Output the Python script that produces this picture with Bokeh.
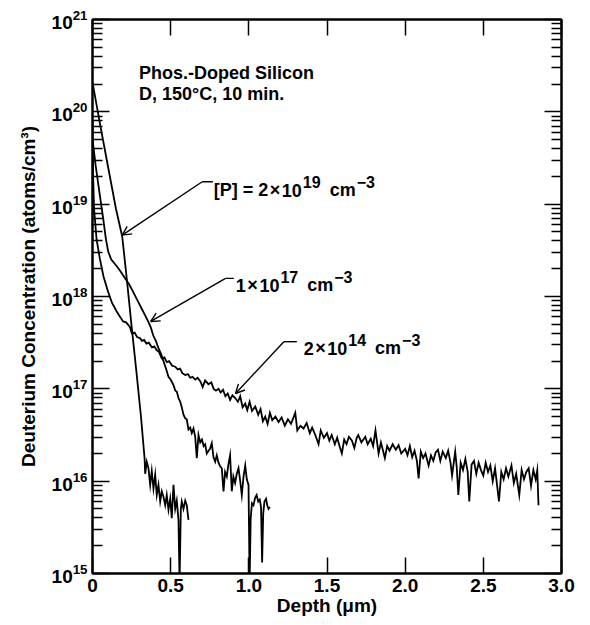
import numpy as np
from bokeh.plotting import figure
from bokeh.models import (FixedTicker, LogAxis, LinearAxis, Label, Arrow, OpenHead,
                          CustomJSTickFormatter, LogTickFormatter, Range1d)
from bokeh.embed import file_html
from bokeh.resources import INLINE

# ---------------- data (depth in micrometres, log10 of concentration in atoms/cm^3) -------------
# [P] = 2x10^19 cm^-3
p19_depth = [0.0, 0.05, 0.10, 0.15, 0.19, 0.22, 0.25, 0.28, 0.31, 0.333,
             0.337, 0.347, 0.358, 0.369, 0.379, 0.390, 0.401, 0.411, 0.422, 0.433,
             0.443, 0.454, 0.465, 0.475, 0.486, 0.497, 0.507, 0.518, 0.529, 0.539,
             0.550, 0.557, 0.565, 0.571, 0.582, 0.593, 0.603, 0.614]
p19_log10c = [20.32, 19.85, 19.40, 18.95, 18.65, 18.18, 17.68, 17.20, 16.70, 16.25,
              16.08, 16.21, 16.14, 15.96, 16.11, 15.92, 16.07, 15.85, 15.96, 15.78,
              15.89, 15.83, 15.74, 15.85, 15.69, 15.81, 15.60, 15.96, 15.70, 15.79,
              15.58, 14.90, 15.70, 15.78, 15.70, 15.79, 15.74, 15.58]

# 1x10^17 cm^-3
p17_depth = [0.0, 0.02, 0.045, 0.068, 0.085, 0.10, 0.12, 0.154, 0.18, 0.207,
             0.235, 0.26, 0.29, 0.314, 0.335, 0.356, 0.374, 0.388, 0.405, 0.422,
             0.44, 0.454, 0.47, 0.486, 0.50, 0.518, 0.53, 0.539, 0.55, 0.561,
             0.571, 0.582, 0.593, 0.603, 0.614, 0.625, 0.635, 0.646, 0.657, 0.667,
             0.678, 0.689, 0.70, 0.711, 0.721, 0.731, 0.742, 0.752, 0.763, 0.774,
             0.785, 0.795, 0.806, 0.817, 0.827, 0.838, 0.848, 0.859, 0.869, 0.88,
             0.891, 0.901, 0.912, 0.923, 0.934, 0.945, 0.955, 0.966, 0.977, 0.987,
             0.998, 1.005, 1.012, 1.02, 1.03, 1.04, 1.05, 1.06, 1.07, 1.078,
             1.085, 1.092, 1.10, 1.11, 1.118, 1.126, 1.135]
p17_log10c = [19.71, 19.42, 19.12, 18.85, 18.63, 18.49, 18.40, 18.33, 18.27, 18.20,
              18.13, 18.05, 17.95, 17.87, 17.80, 17.73, 17.66, 17.58, 17.52, 17.44,
              17.37, 17.30, 17.22, 17.13, 17.10, 17.04, 16.98, 16.97, 16.90, 16.86,
              16.80, 16.72, 16.68, 16.67, 16.56, 16.58, 16.52, 16.57, 16.48, 16.25,
              16.50, 16.42, 16.45, 16.38, 16.40, 16.30, 16.33, 16.35, 16.41, 16.26,
              16.21, 16.28, 16.20, 16.16, 16.14, 15.89, 16.10, 16.05, 16.18, 16.28,
              15.89, 16.05, 15.98, 16.08, 16.14, 16.00, 15.85, 16.05, 16.17, 16.02,
              15.96, 14.90, 15.60, 15.76, 15.74, 15.82, 15.85, 15.78, 15.80, 15.72,
              15.12, 15.65, 15.78, 15.81, 15.74, 15.70, 15.72]

# 2x10^14 cm^-3
p14_depth = [0.0, 0.004, 0.010, 0.026, 0.047, 0.070, 0.100, 0.125, 0.154, 0.180,
             0.196, 0.215, 0.239, 0.252, 0.270, 0.285, 0.303, 0.316, 0.330, 0.345,
             0.360, 0.380, 0.395, 0.410, 0.425, 0.443, 0.460, 0.475, 0.490, 0.510,
             0.529, 0.545, 0.560, 0.575, 0.593, 0.610, 0.625, 0.640, 0.657, 0.672,
             0.690, 0.705, 0.720, 0.742, 0.760, 0.775, 0.790, 0.806, 0.820, 0.835,
             0.850, 0.865, 0.880, 0.895, 0.913, 0.930, 0.945, 0.960, 0.977, 0.990,
             1.005, 1.020, 1.041, 1.060, 1.075, 1.090, 1.105, 1.120, 1.135, 1.150,
             1.170, 1.190, 1.210, 1.230, 1.250, 1.270, 1.297, 1.310, 1.330, 1.350,
             1.370, 1.390, 1.405, 1.425, 1.446, 1.460, 1.480, 1.500, 1.515, 1.530,
             1.550, 1.565, 1.580, 1.595, 1.610, 1.625, 1.640, 1.659, 1.675, 1.690,
             1.700, 1.720, 1.745, 1.760, 1.780, 1.795, 1.810, 1.830, 1.845, 1.870,
             1.885, 1.900, 1.920, 1.940, 1.958, 1.975, 2.000, 2.015, 2.030, 2.045,
             2.060, 2.075, 2.086, 2.100, 2.115, 2.130, 2.150, 2.165, 2.180, 2.195,
             2.210, 2.225, 2.240, 2.260, 2.275, 2.290, 2.300, 2.320, 2.330, 2.340,
             2.355, 2.370, 2.385, 2.400, 2.410, 2.425, 2.440, 2.455, 2.470, 2.485,
             2.500, 2.515, 2.530, 2.545, 2.560, 2.575, 2.600, 2.615, 2.630, 2.645,
             2.660, 2.680, 2.695, 2.710, 2.730, 2.745, 2.760, 2.775, 2.790, 2.805,
             2.820, 2.835, 2.845, 2.853]
p14_log10c = [19.90, 19.30, 18.95, 18.62, 18.41, 18.22, 18.05, 17.93, 17.84, 17.77,
              17.73, 17.72, 17.67, 17.60, 17.61, 17.56, 17.55, 17.52, 17.53, 17.49,
              17.50, 17.45, 17.46, 17.42, 17.40, 17.33, 17.34, 17.29, 17.30, 17.25,
              17.24, 17.21, 17.22, 17.17, 17.15, 17.16, 17.12, 17.13, 17.10, 17.12,
              17.08, 17.02, 17.09, 17.05, 17.07, 17.00, 16.98, 17.00, 16.96, 16.99,
              16.92, 16.95, 16.88, 16.93, 16.90, 16.86, 16.92, 16.80, 16.84, 16.77,
              16.86, 16.76, 16.81, 16.72, 16.78, 16.65, 16.70, 16.62, 16.74, 16.66,
              16.70, 16.64, 16.69, 16.60, 16.67, 16.62, 16.74, 16.55, 16.60, 16.57,
              16.63, 16.52, 16.58, 16.50, 16.40, 16.55, 16.47, 16.52, 16.44, 16.50,
              16.40, 16.47, 16.38, 16.30, 16.45, 16.40, 16.48, 16.44, 16.36, 16.47,
              16.50, 16.42, 16.48, 16.40, 16.46, 16.38, 16.55, 16.30, 16.42, 16.25,
              16.38, 16.33, 16.40, 16.34, 16.39, 16.30, 16.35, 16.28, 16.38, 16.26,
              16.33, 16.22, 16.03, 16.32, 16.25, 16.30, 16.17, 16.28, 16.22, 16.31,
              16.34, 16.22, 16.32, 16.25, 16.33, 16.20, 16.06, 16.32, 16.15, 15.85,
              16.20, 16.12, 16.24, 16.10, 15.78, 16.18, 16.22, 16.08, 16.20, 16.12,
              16.06, 16.20, 16.10, 16.17, 16.00, 16.14, 15.78, 16.10, 16.02, 16.14,
              16.05, 16.17, 15.98, 16.08, 15.85, 16.12, 16.02, 16.10, 16.14, 15.95,
              16.12, 16.02, 16.12, 15.74]

x_ticks = [0.0, 0.5, 1.0, 1.5, 2.0, 2.5, 3.0]
x_tick_labels = ["0", "0.5", "1.0", "1.5", "2.0", "2.5", "3.0"]
y_ticks = [1e15, 1e16, 1e17, 1e18, 1e19, 1e20, 1e21]

x_title = "Depth (\u03bcm)"
y_title = "Deuterium Concentration (atoms/cm\u00b3)"
note_lines = ["Phos.-Doped Silicon", "D, 150\u00b0C, 10 min."]

# ---------------- styling ----------------
FONT = "Liberation Sans"
BASE = 18          # note / annotation text
TICK = 19          # tick labels
TITLE = 19         # axis titles
SUP = 16
RAISE = 8
# Liberation Sans Bold advance widths (per 1000 em), metric-compatible with Arial Bold
ADV = {'[': 333, ']': 333, 'P': 667, ' ': 278, '=': 584, '\u00d7': 584, '\u2212': 584,
       'c': 556, 'm': 889, '0': 556, '1': 556, '2': 556, '3': 556, '4': 556,
       '7': 556, '9': 556}


def tw(s, size):
    return sum(ADV.get(ch, 556) for ch in s) / 1000.0 * size


y_minor = [m * t for t in y_ticks[:-1] for m in range(2, 10)]

p = figure(width=580, height=620, x_range=Range1d(0, 3), y_range=Range1d(1e15, 1e21),
           y_axis_type="log", output_backend="svg", toolbar_location=None,
           min_border_left=92, min_border_right=19, min_border_top=19, min_border_bottom=47)
p.xgrid.visible = False
p.ygrid.visible = False
p.outline_line_color = "black"
p.outline_line_width = 2
p.background_fill_color = "white"
p.border_fill_color = "white"

xa = p.xaxis[0]
xa.ticker = FixedTicker(ticks=x_ticks, minor_ticks=[])
xa.major_label_overrides = dict(zip(x_ticks, x_tick_labels))
xa.axis_label = x_title
ya = p.yaxis[0]
ya.ticker = FixedTicker(ticks=y_ticks, minor_ticks=y_minor)
ya.formatter = LogTickFormatter()
ya.axis_label = y_title

for ax in (xa, ya):
    ax.axis_line_width = 2
    ax.axis_line_color = "black"
    ax.major_tick_out = 0
    ax.minor_tick_out = 0
    ax.major_tick_line_width = 1.5
    ax.minor_tick_line_width = 1.3
    ax.major_tick_line_color = "black"
    ax.minor_tick_line_color = "black"
    ax.major_label_text_font = FONT
    ax.major_label_text_font_size = f"{TICK}px"
    ax.major_label_text_font_style = "bold"
    ax.major_label_text_color = "black"
    ax.axis_label_text_font = FONT
    ax.axis_label_text_font_size = f"{TITLE}px"
    ax.axis_label_text_font_style = "bold"
    ax.axis_label_text_color = "black"
xa.major_tick_in = 16
xa.minor_tick_in = 0
xa.major_label_standoff = 5
xa.axis_label_standoff = 0
ya.major_tick_in = 17
ya.minor_tick_in = 10
ya.major_label_standoff = 5
ya.axis_label_standoff = 10

blank = CustomJSTickFormatter(code="return ''")
top = LinearAxis(ticker=FixedTicker(ticks=x_ticks, minor_ticks=[]), formatter=blank,
                 major_tick_in=16, major_tick_out=0, minor_tick_in=0, minor_tick_out=0,
                 major_label_text_font_size="0px", major_label_standoff=0,
                 axis_line_width=2, major_tick_line_width=1.5)
p.add_layout(top, "above")
right = LogAxis(ticker=FixedTicker(ticks=y_ticks, minor_ticks=y_minor),
                formatter=CustomJSTickFormatter(code="return ''"),
                major_tick_in=17, major_tick_out=0, minor_tick_in=10, minor_tick_out=0,
                major_label_text_font_size="0px", major_label_standoff=0,
                axis_line_width=2, major_tick_line_width=1.5, minor_tick_line_width=1.3)
p.add_layout(right, "right")

# ---------------- curves ----------------
for dep, lc in ((p19_depth, p19_log10c), (p17_depth, p17_log10c), (p14_depth, p14_log10c)):
    p.line(dep, 10.0 ** np.array(lc), line_color="black", line_width=1.8, line_join="miter")


# ---------------- annotations ----------------
def rich(x, y, parts):
    """parts: (text, superscript?, gap in px before the piece)"""
    off = 0.0
    for txt, sup, gap in parts:
        off += gap
        size = SUP if sup else BASE
        p.add_layout(Label(x=x, y=y, x_offset=off, y_offset=RAISE if sup else 0, text=txt,
                           text_font=FONT, text_font_size=f"{size}px", text_font_style="bold",
                           text_color="black", text_baseline="alphabetic", text_align="left"))
        off += tw(txt, size)


def leader(x_elbow, y_elbow, x_dash_end, x_tip, y_tip):
    p.add_layout(Arrow(end=None, x_start=x_elbow, y_start=y_elbow, x_end=x_dash_end,
                       y_end=y_elbow, line_width=1.4, line_color="black"))
    p.add_layout(Arrow(end=OpenHead(size=9, line_width=1.4, line_color="black"),
                       x_start=x_elbow, y_start=y_elbow, x_end=x_tip, y_end=y_tip,
                       line_width=1.4, line_color="black"))


p.add_layout(Label(x=0.297, y=2.61e20, text=note_lines[0], text_font=FONT,
                   text_font_size=f"{BASE}px", text_font_style="bold", text_color="black",
                   text_baseline="alphabetic"))
p.add_layout(Label(x=0.297, y=1.55e20, text=note_lines[1], text_font=FONT,
                   text_font_size=f"{BASE}px", text_font_style="bold", text_color="black",
                   text_baseline="alphabetic"))

rich(0.776, 1.41e19, [("[P] = 2", False, 0), ("\u00d7", False, 1.5), ("10", False, 1.5),
                      ("19", True, 1), ("cm", False, 9), ("\u22123", True, 1)])
leader(0.702, 1.75e19, 0.770, 0.190, 4.62e18)

rich(0.917, 1.32e18, [("1", False, 0), ("\u00d7", False, 1.5), ("10", False, 1.5),
                      ("17", True, 1), ("cm", False, 9), ("\u22123", True, 1)])
leader(0.851, 1.57e18, 0.904, 0.372, 5.37e17)

rich(1.351, 2.75e17, [("2", False, 0), ("\u00d7", False, 1.5), ("10", False, 1.5),
                      ("14", True, 1), ("cm", False, 9), ("\u22123", True, 1)])
leader(1.224, 3.24e17, 1.307, 0.915, 8.9e16)

open("out.html", "w").write(file_html(p, INLINE))
